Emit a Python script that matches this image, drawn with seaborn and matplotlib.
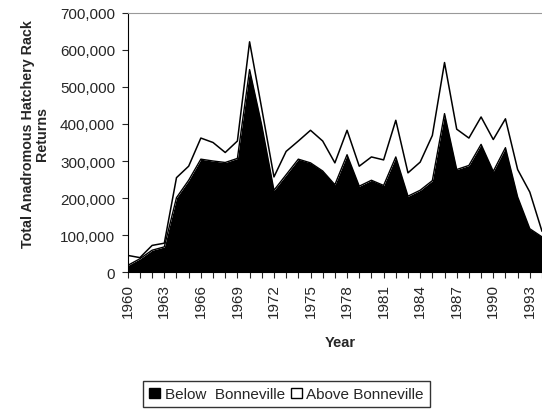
import matplotlib.pyplot as plt
import matplotlib as mpl
from matplotlib.patches import Patch
import pandas as pd
import seaborn as sns

sns.set_style("ticks")
mpl.rcParams['font.family'] = ['Liberation Sans', 'DejaVu Sans']
mpl.rcParams['font.size'] = 10

years = list(range(1960, 1995))
below = [18000, 36000, 59000, 68000, 201000, 248000, 305000, 300000, 296000, 307000,
         547000, 396000, 221000, 263000, 305000, 295000, 273000, 236000, 317000, 232000,
         248000, 234000, 311000, 205000, 221000, 247000, 428000, 277000, 288000, 345000,
         272000, 336000, 203000, 117000, 95000]
total = [45000, 39000, 72000, 78000, 255000, 286000, 362000, 350000, 323000, 354000,
         622000, 441000, 257000, 326000, 354000, 383000, 354000, 295000, 383000, 286000,
         311000, 303000, 410000, 268000, 297000, 369000, 566000, 386000, 362000, 419000,
         358000, 414000, 277000, 216000, 110000]

df = pd.DataFrame({'Year': years, 'Below': below, 'Total': total})

fig = plt.figure(figsize=(5.42, 4.10), dpi=100)
ax = fig.add_axes([0.2357, 0.334, 0.7643, 0.632])

ax.fill_between(df['Year'], 0, df['Below'], color='black', lw=0)
ax.fill_between(df['Year'], df['Below'], df['Total'], color='white', lw=0)
sns.lineplot(data=df, x='Year', y='Below', color='black', lw=1, ax=ax)
sns.lineplot(data=df, x='Year', y='Total', color='black', lw=1.1, ax=ax)

ax.set_xlim(1960, 1993.41)
ax.set_ylim(0, 700000)
ax.set_yticks(range(0, 700001, 100000))
ax.yaxis.set_major_formatter(mpl.ticker.FuncFormatter(lambda v, p: f"{int(v):,}"))
ax.set_xticks(range(1960, 1994, 3))
ax.set_xticks(range(1960, 1995), minor=True)
ax.tick_params(axis='x', which='both', rotation=90, length=4, width=0.8, direction='out', pad=4)
ax.tick_params(axis='y', length=4, width=0.8, direction='out', pad=5)
ax.tick_params(labelsize=11)

ax.spines['right'].set_visible(False)
ax.spines['top'].set_color('#999999')
ax.spines['left'].set_color('black')
ax.spines['bottom'].set_color('black')

ax.set_xlabel('Year', fontweight='bold', fontsize=10.5)
ax.set_ylabel('Total Anadromous Hatchery Rack\nReturns', fontweight='bold', fontsize=10.3,
              linespacing=1.0)
ax.xaxis.set_label_coords(0.512, -0.243)
ax.yaxis.set_label_coords(-0.19, 0.535)

handles = [Patch(facecolor='black', edgecolor='black', label='Below  Bonneville'),
           Patch(facecolor='white', edgecolor='black', label='Above Bonneville')]
fig.legend(handles=handles, loc='lower center', bbox_to_anchor=(0.5286, 0.0), ncol=2,
           fontsize=11, frameon=True, fancybox=False, edgecolor='black',
           handlelength=0.7, handleheight=0.7, handletextpad=0.3, columnspacing=0.4,
           borderpad=0.4, borderaxespad=0.1)

fig.savefig('out.png', dpi=100)
